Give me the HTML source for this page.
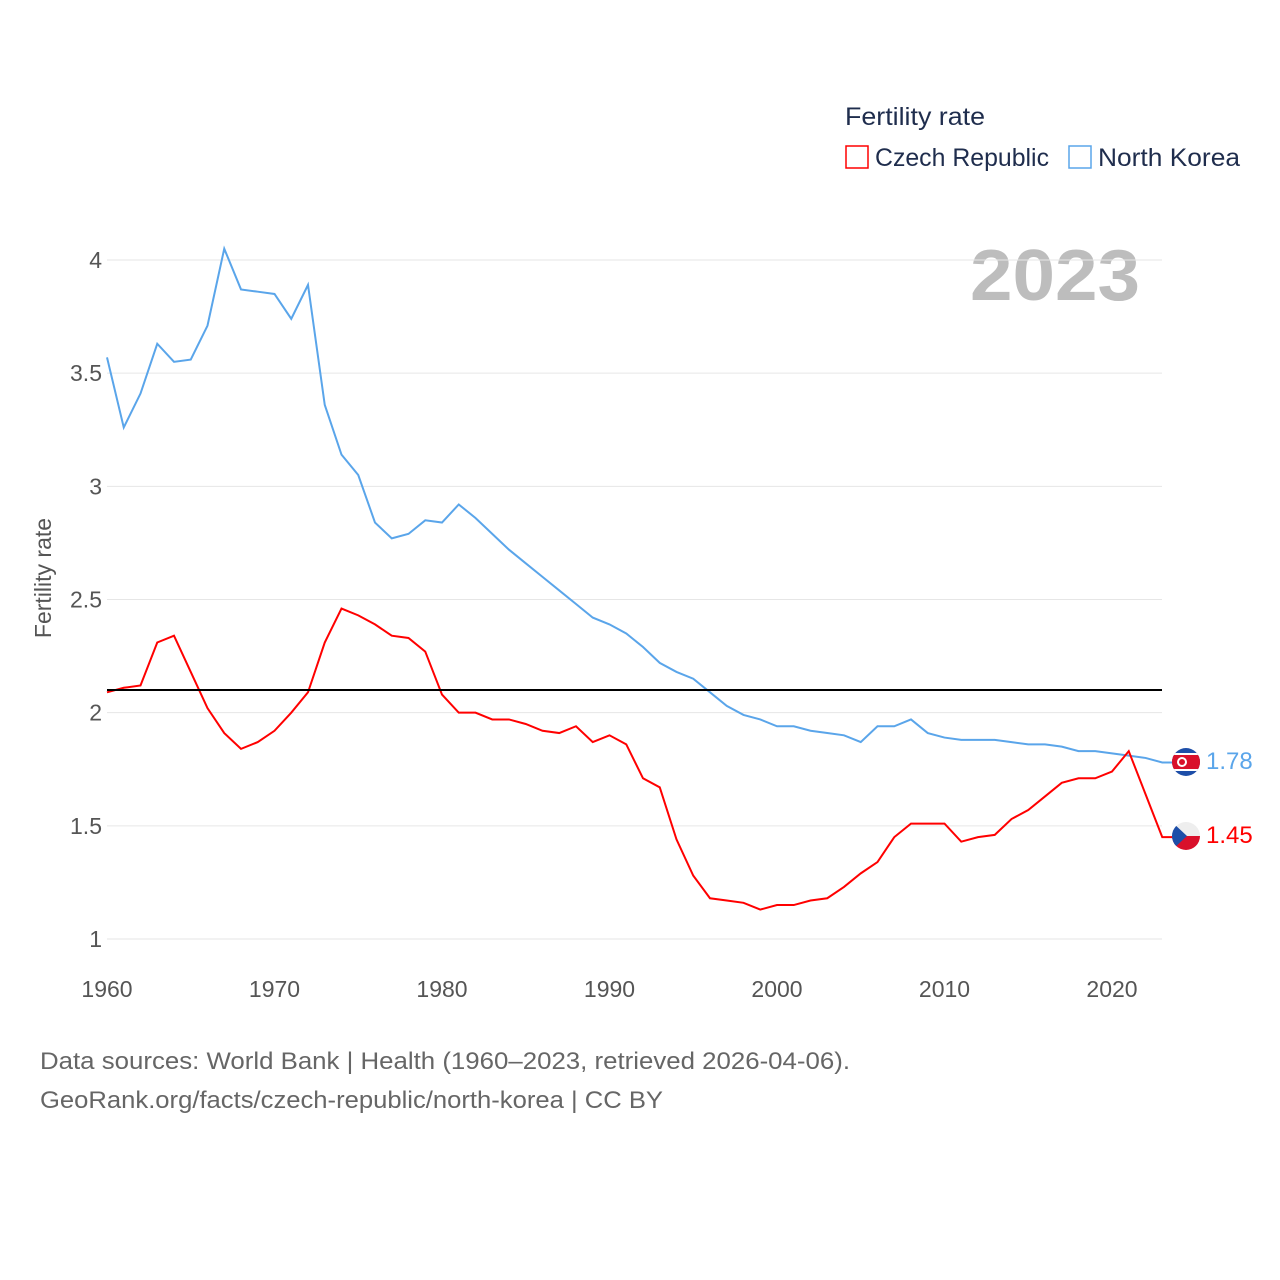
<!DOCTYPE html>
<html><head><meta charset="utf-8"><style>
body{margin:0;background:#fff;}
svg{display:block;font-family:"Liberation Sans","DejaVu Sans",sans-serif;}
</style></head><body>
<svg id="chart" width="1280" height="1280" viewBox="0 0 1280 1280">
<g>
<text x="845" y="125" font-size="25" fill="#1f2d4d" textLength="140" lengthAdjust="spacingAndGlyphs">Fertility rate</text>
<rect x="846" y="146" width="22" height="22" fill="none" stroke="#f00" stroke-width="1.5"/>
<text x="875" y="166" font-size="25" fill="#1f2d4d" textLength="174" lengthAdjust="spacingAndGlyphs">Czech Republic</text>
<rect x="1069" y="146" width="22" height="22" fill="none" stroke="#5aa5ea" stroke-width="1.5"/>
<text x="1098" y="166" font-size="25" fill="#1f2d4d" textLength="142" lengthAdjust="spacingAndGlyphs">North Korea</text>
</g>
<text x="970" y="300" font-size="72" font-weight="bold" fill="#bdbdbd" textLength="170" lengthAdjust="spacingAndGlyphs">2023</text>
<text transform="translate(51,578) rotate(-90)" font-size="23" fill="#555" text-anchor="middle">Fertility rate</text>
<g id="grid"></g><g id="yticks"></g><g id="xticks"></g><g id="lines"></g>
<g>
<clipPath id="c1"><circle cx="1186" cy="762" r="14"/></clipPath>
<g clip-path="url(#c1)"><rect x="1172" y="748" width="28" height="28" fill="#1d4ea8"/><rect x="1172" y="753" width="28" height="2" fill="#fff"/><rect x="1172" y="755" width="28" height="14" fill="#d9102b"/><rect x="1172" y="769" width="28" height="2" fill="#fff"/><circle cx="1182" cy="762" r="5" fill="#fff"/><circle cx="1182" cy="762" r="3" fill="#d9102b"/></g>
</g>
<text x="1206" y="769" font-size="24" fill="#5aa5ea">1.78</text>
<g>
<clipPath id="c2"><circle cx="1186" cy="836" r="14"/></clipPath>
<g clip-path="url(#c2)"><rect x="1172" y="822" width="28" height="14" fill="#eee"/><rect x="1172" y="836" width="28" height="14" fill="#d9102b"/><polygon points="1172,822 1187,836 1172,850" fill="#1d4ea8"/></g>
</g>
<text x="1206" y="843" font-size="24" fill="#f00">1.45</text>
<text x="40" y="1069" font-size="24" fill="#666" textLength="810" lengthAdjust="spacingAndGlyphs">Data sources: World Bank | Health (1960–2023, retrieved 2026-04-06).</text>
<text x="40" y="1108" font-size="24" fill="#666" textLength="623" lengthAdjust="spacingAndGlyphs">GeoRank.org/facts/czech-republic/north-korea | CC BY</text>
</svg>
<script>
const years=[];for(let y=1960;y<=2023;y++)years.push(y);
const northKorea=[3.57,3.26,3.41,3.63,3.55,3.56,3.71,4.05,3.87,3.86,3.85,3.74,3.89,3.36,3.14,3.05,2.84,2.77,2.79,2.85,2.84,2.92,2.86,2.79,2.72,2.66,2.6,2.54,2.48,2.42,2.39,2.35,2.29,2.22,2.18,2.15,2.09,2.03,1.99,1.97,1.94,1.94,1.92,1.91,1.9,1.87,1.94,1.94,1.97,1.91,1.89,1.88,1.88,1.88,1.87,1.86,1.86,1.85,1.83,1.83,1.82,1.81,1.8,1.78];
const czech=[2.09,2.11,2.12,2.31,2.34,2.18,2.02,1.91,1.84,1.87,1.92,2.0,2.09,2.31,2.46,2.43,2.39,2.34,2.33,2.27,2.08,2.0,2.0,1.97,1.97,1.95,1.92,1.91,1.94,1.87,1.9,1.86,1.71,1.67,1.44,1.28,1.18,1.17,1.16,1.13,1.15,1.15,1.17,1.18,1.23,1.29,1.34,1.45,1.51,1.51,1.51,1.43,1.45,1.46,1.53,1.57,1.63,1.69,1.71,1.71,1.74,1.83,1.64,1.45];
const yTicks=[1,1.5,2,2.5,3,3.5,4];
const yTickLabels=["1","1.5","2","2.5","3","3.5","4"];
const xTicks=[1960,1970,1980,1990,2000,2010,2020];
const replacement=[2.1];
const NS="http://www.w3.org/2000/svg";
const X=v=>107+(v-1960)*16.75;
const Y=v=>939-(v-1)*226.33;
function mk(p,t,a){const e=document.createElementNS(NS,t);for(const k in a)e.setAttribute(k,a[k]);document.getElementById(p).appendChild(e);return e;}
yTicks.forEach((v,i)=>{
 const l=mk('grid','line',{x1:107,x2:1162,y1:Y(v),y2:Y(v),stroke:'#e6e6e6','stroke-width':1});
 
 
 const t=mk('yticks','text',{x:102,y:Y(v)+8,'font-size':23,fill:'#555','text-anchor':'end'});
 t.textContent=yTickLabels[i];
 
 
});
xTicks.forEach(v=>{
 const t=mk('xticks','text',{x:X(v),y:997,'font-size':23,fill:'#555','text-anchor':'middle'});
 t.textContent=v;
 
 
});
const nk=mk('lines','polyline',{points:years.map((y,i)=>X(y)+','+Y(northKorea[i])).join(' ')+' '+(X(2023)+10)+','+Y(northKorea[63]),fill:'none',stroke:'#5aa5ea','stroke-width':2});


const cz=mk('lines','polyline',{points:years.map((y,i)=>X(y)+','+Y(czech[i])).join(' ')+' '+(X(2023)+10)+','+Y(czech[63]),fill:'none',stroke:'#f00','stroke-width':2});


const rl=mk('lines','line',{x1:107,x2:1162,y1:Y(replacement[0]),y2:Y(replacement[0]),stroke:'#000','stroke-width':2});


</script>
</body></html>
